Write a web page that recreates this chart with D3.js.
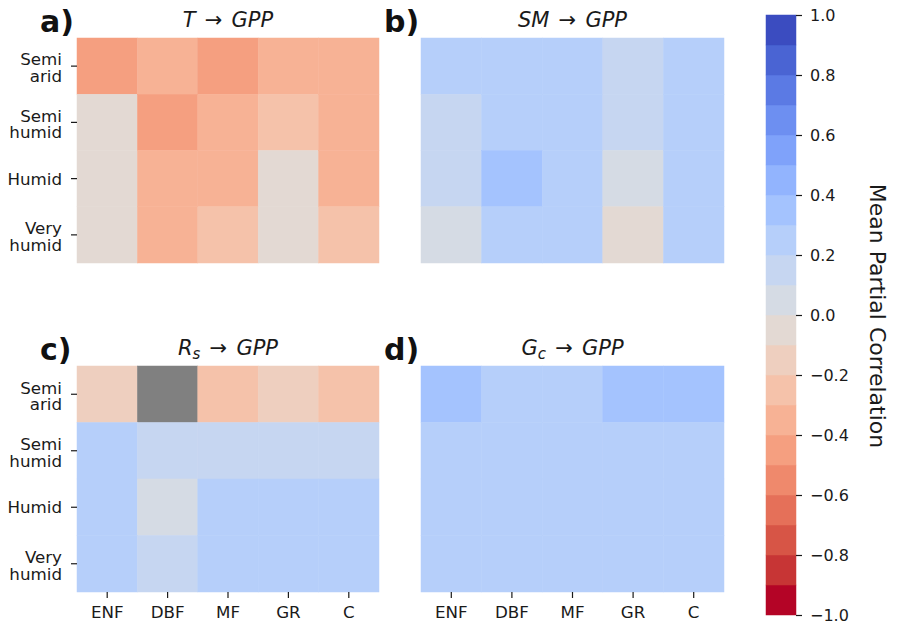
<!DOCTYPE html>
<html>
<head>
<meta charset="utf-8">
<script src="https://cdn.jsdelivr.net/npm/d3@7"></script>
<style>
  html, body { margin: 0; padding: 0; background: #fff; }
  svg { display: block; font-family: "DejaVu Sans", sans-serif; }
  svg text { font-family: "DejaVu Sans", sans-serif; }
</style>
</head>
<body>
<svg id="chart" width="897" height="627"></svg>
<script>
// Plant functional types (columns) and aridity classes (rows)
const categories = ["ENF", "DBF", "MF", "GR", "C"];
const climates = [["Semi", "arid"], ["Semi", "humid"], ["Humid"], ["Very", "humid"]];

// Mean partial correlation of each driver with GPP (rows follow `climates`)
const tGpp = [
  [-0.44, -0.34, -0.46, -0.36, -0.33],
  [-0.05, -0.43, -0.35, -0.24, -0.37],
  [-0.04, -0.36, -0.34, -0.06, -0.35],
  [-0.03, -0.35, -0.26, -0.05, -0.23]
];
const smGpp = [
  [0.26, 0.24, 0.27, 0.16, 0.25],
  [0.14, 0.26, 0.23, 0.17, 0.27],
  [0.15, 0.33, 0.24, 0.06, 0.26],
  [0.07, 0.24, 0.25, -0.04, 0.28]
];
const rsGpp = [
  [-0.16, null, -0.24, -0.13, -0.26],
  [0.26, 0.17, 0.15, 0.16, 0.14],
  [0.25, 0.06, 0.27, 0.24, 0.26],
  [0.27, 0.13, 0.25, 0.26, 0.24]
];
const gcGpp = [
  [0.34, 0.27, 0.25, 0.33, 0.36],
  [0.25, 0.24, 0.26, 0.23, 0.27],
  [0.24, 0.26, 0.25, 0.27, 0.23],
  [0.26, 0.25, 0.24, 0.26, 0.25]
];
const colorbarTicks = [1.0, 0.8, 0.6, 0.4, 0.2, 0.0, -0.2, -0.4, -0.6, -0.8, -1.0];

// Panel definitions: letter, title pieces (text, italic, subscript)
const panels = [
  { letter: "a)", data: tGpp, col: 0, row: 0,
    title: [["T", "i"], [" \u2192", "n"], [" GPP", "i"]] },
  { letter: "b)", data: smGpp, col: 1, row: 0,
    title: [["SM", "i"], [" \u2192", "n"], [" GPP", "i"]] },
  { letter: "c)", data: rsGpp, col: 0, row: 1,
    title: [["R", "i"], ["s", "sub"], [" \u2192", "n"], [" GPP", "i"]] },
  { letter: "d)", data: gcGpp, col: 1, row: 1,
    title: [["G", "i"], ["c", "sub"], [" \u2192", "n"], [" GPP", "i"]] }
];

// Matplotlib "coolwarm" colour stops; the chart uses its reversed form in 20 steps
const coolwarmStops = ["#3b4cc0", "#4d68d7", "#6282ea", "#779af7", "#8db0fe", "#a3c2fe",
  "#b8d0f9", "#cbd8ee", "#dddddd", "#ebd3c6", "#f5c4ad", "#f7b194", "#f49a7b",
  "#ec7f63", "#dd604d", "#cb3e38", "#b40426"];
const coolwarm = d3.scaleLinear()
  .domain(d3.range(coolwarmStops.length).map(i => i / (coolwarmStops.length - 1)))
  .range(coolwarmStops)
  .interpolate(d3.interpolateRgb);
const nLevels = 20;
const levelColors = d3.range(nLevels).map(i => coolwarm(1 - i / (nLevels - 1)));
const color = d3.scaleQuantize().domain([-1, 1]).range(levelColors);
const missingColor = "#808080";

const textColor = "#1a1a1a";
const FONT = "DejaVu Sans";
const TICK_FS = 16.7;
const svg = d3.select("#chart");

// Geometry of the 2x2 grid
const colX = [[77, 379], [421, 724]];
const rowY = [[38, 263], [366, 592]];

panels.forEach(p => {
  const [x0, x1] = colX[p.col];
  const [y0, y1] = rowY[p.row];
  const x = d3.scaleBand().domain(categories).range([x0, x1]).padding(0);
  const y = d3.scaleBand().domain(d3.range(climates.length)).range([y0, y1]).padding(0);

  const g = svg.append("g");

  // heatmap cells
  p.data.forEach((rowVals, ri) => {
    g.selectAll(null)
      .data(rowVals.map((v, ci) => ({ v, cat: categories[ci], ri })))
      .join("rect")
      .attr("x", d => x(d.cat))
      .attr("y", d => y(d.ri))
      .attr("width", x.bandwidth())
      .attr("height", y.bandwidth())
      .attr("fill", d => d.v == null ? missingColor : color(d.v))
      .attr("stroke", d => d.v == null ? missingColor : color(d.v))
      .attr("stroke-width", 0.5);
  });

  // y axis on the left column only; each label line is its own text
  if (p.col === 0) {
    const ax = g.append("g")
      .attr("transform", `translate(${x0},0)`)
      .call(d3.axisLeft(y).tickSize(6).tickPadding(8).tickFormat(() => ""));
    ax.attr("font-family", FONT);
    ax.select(".domain").remove();
    ax.selectAll(".tick line").attr("stroke", textColor).attr("stroke-width", 1.2);
    ax.selectAll(".tick text").remove();
    ax.selectAll(".tick").each(function (ri) {
      const lines = climates[ri];
      const offsets = lines.length === 1 ? [6] : [-0.7, 16];
      d3.select(this).selectAll("text.lbl")
        .data(lines)
        .join("text")
        .attr("class", "lbl")
        .attr("x", -15)
        .attr("y", (ln, k) => offsets[k])
        .attr("fill", textColor)
        .attr("font-size", TICK_FS)
        .attr("font-family", FONT)
        .attr("text-anchor", "end")
        .text(ln => ln);
    });
  }

  // x axis on the bottom row only
  if (p.row === 1) {
    const ax = g.append("g")
      .attr("transform", `translate(0,${y1})`)
      .call(d3.axisBottom(x).tickSize(6).tickPadding(8));
    ax.attr("font-family", FONT);
    ax.select(".domain").remove();
    ax.selectAll(".tick line").attr("stroke", textColor).attr("stroke-width", 1.2);
    ax.selectAll(".tick text").attr("font-size", TICK_FS).attr("fill", textColor)
      .attr("font-family", FONT);
  }

  // panel title (math style: italic symbols, upright arrow)
  const title = g.append("text")
    .attr("x", (x0 + x1) / 2)
    .attr("y", y0 - 11)
    .attr("text-anchor", "middle")
    .attr("font-size", 21)
    .attr("font-family", FONT)
    .attr("fill", textColor);
  let shifted = false;
  p.title.forEach(([txt, kind]) => {
    const ts = title.append("tspan").text(txt);
    if (kind === "i") ts.attr("font-style", "italic");
    if (kind === "n" || (kind === "i" && txt.startsWith(" "))) ts.attr("dx", 2.5);
    if (kind === "sub") {
      ts.attr("font-style", "italic").attr("font-size", 15).attr("dy", 4);
      shifted = true;
    } else if (shifted) {
      ts.attr("dy", -4);
      shifted = false;
    }
  });

  // panel letter
  g.append("text")
    .attr("x", x0 - 37)
    .attr("y", y0 - 6)
    .attr("font-size", 30)
    .attr("font-weight", "bold")
    .attr("font-family", FONT)
    .attr("fill", "#111")
    .text(p.letter);
});

// Colour bar
const cbX = 766, cbW = 30, cbTop = 15, cbBottom = 615;
const cbScale = d3.scaleLinear().domain([-1, 1]).range([cbBottom, cbTop]);
const cb = svg.append("g");
cb.selectAll("rect")
  .data(levelColors.map((c, i) => ({ c, lo: -1 + i * 2 / nLevels, hi: -1 + (i + 1) * 2 / nLevels })))
  .join("rect")
  .attr("x", cbX)
  .attr("y", d => cbScale(d.hi))
  .attr("width", cbW)
  .attr("height", d => cbScale(d.lo) - cbScale(d.hi))
  .attr("fill", d => d.c)
  .attr("stroke", d => d.c)
  .attr("stroke-width", 0.5);

const cbAxis = cb.append("g")
  .attr("transform", `translate(${cbX + cbW},0)`)
  .call(d3.axisRight(cbScale).tickValues(colorbarTicks).tickSize(6).tickPadding(8)
    .tickFormat(d => d3.format(".1f")(d).replace("-", "\u2212")));
cbAxis.attr("font-family", FONT);
cbAxis.select(".domain").remove();
cbAxis.selectAll(".tick line").attr("stroke", textColor).attr("stroke-width", 1.2);
cbAxis.selectAll(".tick text").attr("font-size", 16).attr("fill", textColor)
  .attr("font-family", FONT);

svg.append("text")
  .attr("transform", `translate(870,${(cbTop + cbBottom) / 2 + 1}) rotate(90)`)
  .attr("text-anchor", "middle")
  .attr("font-size", 22)
  .attr("font-family", FONT)
  .attr("fill", textColor)
  .text("Mean Partial Correlation");
</script>
</body>
</html>
